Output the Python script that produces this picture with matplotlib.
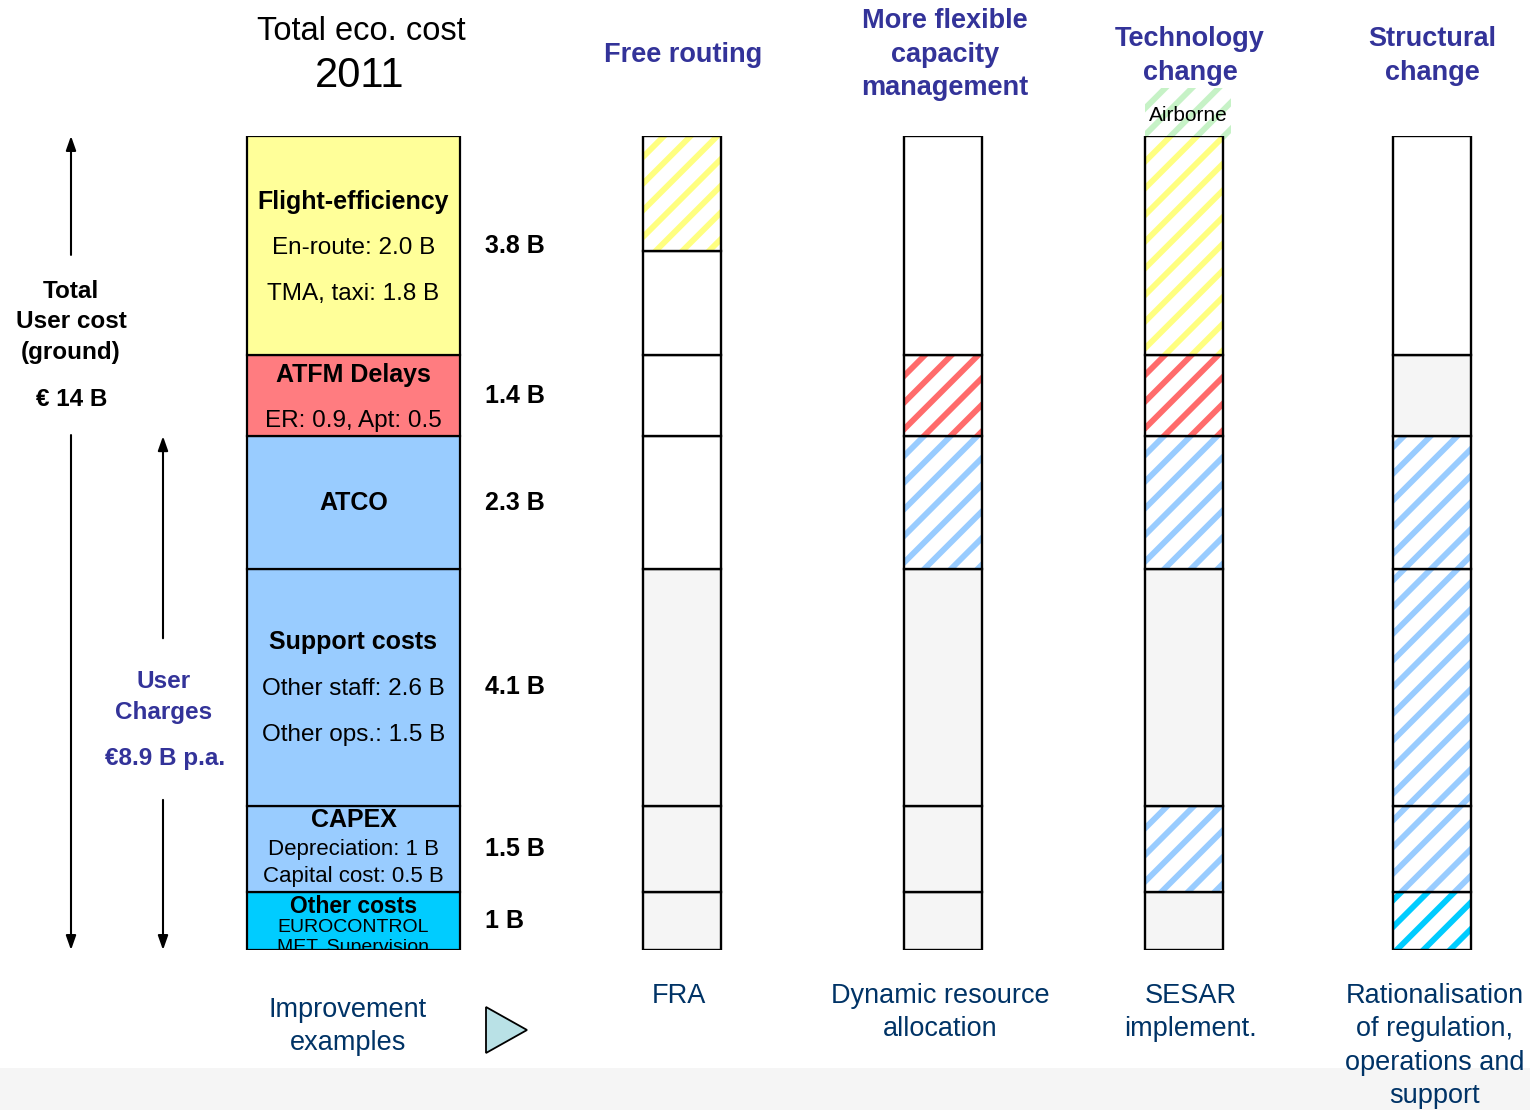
import numpy as np
import matplotlib
matplotlib.use('Agg')
import matplotlib.pyplot as plt
from matplotlib.patches import Polygon, Rectangle

# hatch cell is one inch of device pixels, so 80 dpi gives ~13 px stripe spacing
DPI = 80
K = 100 / DPI   # sizes below are written for 100 dpi and scaled by K

plt.rcParams['font.family'] = ['Liberation Sans', 'DejaVu Sans']
plt.rcParams['hatch.linewidth'] = 4.2 * K

# cost blocks of the 2011 total economic cost, bottom to top (billion EUR)
blocks = ['Other costs', 'CAPEX', 'Support costs', 'ATCO', 'ATFM Delays', 'Flight-efficiency']
block_values = [1.0, 1.5, 4.1, 2.3, 1.4, 3.8]
block_colors = ['#00ccff', '#99ccff', '#99ccff', '#99ccff', '#ff7c80', '#ffff99']
value_labels = ['1 B', '1.5 B', '4.1 B', '2.3 B', '1.4 B', '3.8 B']
user_charges = 8.9

# flight-efficiency is split into TMA/taxi (1.8) and en-route (2.0)
piece_values = [1.0, 1.5, 4.1, 2.3, 1.4, 1.8, 2.0]
piece_block = [0, 1, 2, 3, 4, 5, 5]

scenarios = [['Free routing'], ['More flexible', 'capacity', 'management'],
             ['Technology', 'change'], ['Structural', 'change']]
examples = [['FRA'], ['Dynamic resource', 'allocation'], ['SESAR', 'implement.'],
            ['Rationalisation', 'of regulation,', 'operations and', 'support']]
# g = untouched, w = blank, y/r/b/c = hatched (impacted) block
scenario_fills = [
    ['g', 'g', 'g', 'w', 'w', 'w', 'y'],
    ['g', 'g', 'g', 'b', 'r', 'w', 'w'],
    ['g', 'b', 'g', 'b', 'r', 'y', 'y'],
    ['c', 'b', 'b', 'b', 'g', 'w', 'w'],
]

# text inside the main bar: (offset px from block centre, text, weight, size)
block_text = [
    [(-15, 'Other costs', 'bold', 16.5), (6, 'EUROCONTROL', 'normal', 14),
     (26, 'MET, Supervision', 'normal', 14)],
    [(-29, 'CAPEX', 'bold', 18), (1, 'Depreciation: 1 B', 'normal', 16),
     (28, 'Capital cost: 0.5 B', 'normal', 16)],
    [(-45, 'Support costs', 'bold', 18), (2, 'Other staff: 2.6 B', 'normal', 17.5),
     (48, 'Other ops.: 1.5 B', 'normal', 17.5)],
    [(0, 'ATCO', 'bold', 18)],
    [(-21, 'ATFM Delays', 'bold', 18), (25, 'ER: 0.9, Apt: 0.5', 'normal', 17.5)],
    [(-44, 'Flight-efficiency', 'bold', 18), (2, 'En-route: 2.0 B', 'normal', 17.5),
     (48, 'TMA, taxi: 1.8 B', 'normal', 17.5)],
]

TITLE_BLUE = '#333399'
NAVY = '#003366'
hatch_colors = {'y': '#ffff80', 'r': '#ff6b6b', 'b': '#99ccff', 'c': '#00ccff'}

fig = plt.figure(figsize=(1530 / DPI, 1110 / DPI), dpi=DPI)

# overlay in pixel units for the free-standing text
ax0 = fig.add_axes([0, 0, 1, 1])
ax0.set_xlim(0, 1530)
ax0.set_ylim(1110, 0)
ax0.axis('off')

# bar axes: x in pixels, y in billion EUR
total = sum(block_values)
ax = fig.add_axes([0, 160 / 1110, 1, 814 / 1110])
ax.set_xlim(0, 1530)
ax.set_ylim(0, total)
ax.axis('off')
ax.patch.set_visible(False)
ax.set_zorder(1)


def put(x, y, lines, dy, size, **kw):
    for k, s in enumerate(lines):
        ax0.text(x, y + k * dy, s, ha='center', va='center', fontsize=size * K, **kw)


ax0.add_patch(Rectangle((0, 1068), 1530, 42, facecolor='#f5f5f5', edgecolor='none', zorder=0))

# headings
put(361, 31, ['Total eco. cost'], 0, 23.5)
put(360, 76, ['2011'], 0, 30)
title_pos = [(683, 55), (945, 21), (1190, 39), (1432, 39)]
for (x, y), lines in zip(title_pos, scenarios):
    put(x, y, lines, 33.5, 19.5, weight='bold', color=TITLE_BLUE)

# main bar
main_x, main_w = 353.5, 213
bottoms = np.concatenate([[0], np.cumsum(block_values)[:-1]])
rects = ax.bar(main_x, block_values, bottom=bottoms, width=main_w, color=block_colors,
               edgecolor='black', linewidth=1.6 * K)
for rect, b, v, lab, lines in zip(rects, bottoms, block_values, value_labels, block_text):
    yc = b + v / 2
    ax.text(485, yc, lab, ha='left', va='center', fontsize=18 * K, weight='bold')
    for dy, s, w, size in lines:
        t = ax.annotate(s, xy=(main_x, yc), xytext=(0, -dy * 72 / DPI), textcoords='offset points',
                        ha='center', va='center', fontsize=size * K, weight=w)
        t.set_clip_path(rect)

# scenario bars
scen_x = [682, 943.5, 1184, 1432.5]
scen_w = 78
piece_bottoms = np.concatenate([[0], np.cumsum(piece_values)[:-1]])
n = len(piece_values)
for x, fills in zip(scen_x, scenario_fills):
    i = 0
    while i < n:
        j = i
        while j + 1 < n and piece_block[j + 1] == piece_block[i] and fills[j + 1] == fills[i]:
            j += 1
        b = piece_bottoms[i]
        h = sum(piece_values[i:j + 1])
        f = fills[i]
        if f in hatch_colors:
            ax.bar(x, h, bottom=b, width=scen_w, color='white', edgecolor=hatch_colors[f],
                   hatch='/', linewidth=0)
        else:
            ax.bar(x, h, bottom=b, width=scen_w, color='#f5f5f5' if f == 'g' else 'white',
                   linewidth=0)
        ax.bar(x, h, bottom=b, width=scen_w, fill=False, edgecolor='black', linewidth=1.7 * K)
        i = j + 1

# airborne share on top of the technology bar
ax.bar(1188, 0.9, bottom=total - 0.07, width=86, color='white', edgecolor='#c6f2c6',
       hatch='/', linewidth=0, clip_on=False, zorder=0.5)
ax.text(1188, total + 0.36, 'Airborne', ha='center', va='center', fontsize=15 * K, clip_on=False)

# range arrows on the left
arrow = dict(arrowstyle='-|>,head_length=0.85,head_width=0.3', lw=1.5 * K, color='black',
             shrinkA=0, shrinkB=0, mutation_scale=10 * K)
for x, top, gap_hi, gap_lo in [(71, total, 12.04, 8.92), (163, user_charges, 5.40, 2.60)]:
    ax.annotate('', xy=(x, top), xytext=(x, gap_hi), arrowprops=arrow, annotation_clip=False)
    ax.annotate('', xy=(x, 0), xytext=(x, gap_lo), arrowprops=arrow, annotation_clip=False)

put(71, 291, ['Total', 'User cost', '(ground)'], 31, 17.5, weight='bold')
put(72, 399, ['€ 14 B'], 0, 17.5, weight='bold')
put(164, 682, ['User', 'Charges'], 31, 17.5, weight='bold', color=TITLE_BLUE)
put(165, 759, ['€8.9 B p.a.'], 0, 17.5, weight='bold', color=TITLE_BLUE)

# improvement examples
put(348, 1010, ['Improvement', 'examples'], 33, 19.5, color=NAVY)
ax0.add_patch(Polygon([(486, 1007), (486, 1053), (527, 1030)], closed=True,
                      facecolor='#b9e1e6', edgecolor='black', linewidth=1.3 * K))
ex_x = [679, 940, 1191, 1435]
for x, lines in zip(ex_x, examples):
    put(x, 996, lines, 33.3, 19.5, color=NAVY)

fig.savefig('out.png', dpi=DPI)
